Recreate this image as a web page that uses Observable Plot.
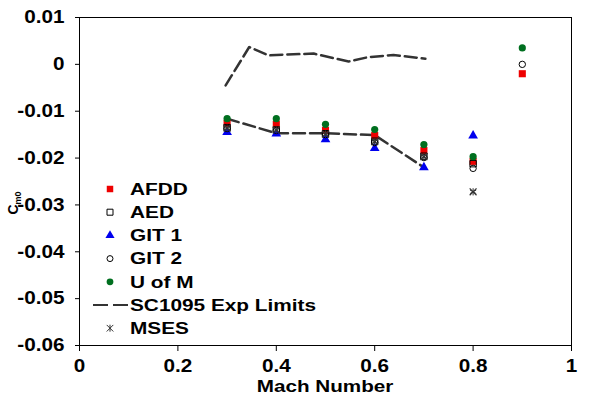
<!DOCTYPE html>
<html>
<head>
<meta charset="utf-8">
<script src="https://cdn.jsdelivr.net/npm/d3@7"></script>
<script src="https://cdn.jsdelivr.net/npm/@observablehq/plot@0.6"></script>
<style>
  html, body { margin: 0; padding: 0; background: #fff; }
  svg text { font-family: "Liberation Sans", Arial, sans-serif; font-weight: bold; }
</style>
</head>
<body>
<div id="chart"></div>
<script>
// ---- data ----
const mach = [0.3, 0.4, 0.5, 0.6, 0.7, 0.8, 0.9];
const afdd = [-0.0126, -0.0128, -0.0141, -0.0152, -0.0184, -0.0207, -0.0020];
const aed  = [-0.0135, -0.0140, -0.0148, -0.0164, -0.0196, -0.0212, null];
const git1 = [-0.0145, -0.0148, -0.0160, -0.0179, -0.0220, -0.0152, null];
const git2 = [-0.0137, -0.0141, -0.0150, -0.0167, -0.0199, -0.0222, 0.0000];
const uofm = [-0.0116, -0.0116, -0.0128, -0.0139, -0.0171, -0.0197, 0.0035];
const mses = [-0.0136, -0.0140, -0.0149, -0.0165, -0.0197, -0.0272, null];

const lowMach = [0.3, 0.4, 0.5, 0.6, 0.7];
const lowLimit = [-0.0116, -0.0147, -0.0147, -0.0151, -0.0220];
const upMach = [0.297, 0.345, 0.384, 0.423, 0.476, 0.547, 0.585, 0.638, 0.703];
const upLimit = [-0.0045, 0.0037, 0.0019, 0.0021, 0.0023, 0.0006, 0.0015, 0.0020, 0.0012];

const xTicks = [0, 0.2, 0.4, 0.6, 0.8, 1];
const yTicks = [0.01, 0, -0.01, -0.02, -0.03, -0.04, -0.05, -0.06];
const legendLabels = ["AFDD", "AED", "GIT 1", "GIT 2", "U of M", "SC1095 Exp Limits", "MSES"];

const RED = "#ee0000", BLUE = "#0000ee", GREEN = "#006f1f", DASH = "#333333";

const pts = arr => mach.map((m, i) => ({m, v: arr[i]})).filter(d => d.v != null);
const low = lowMach.map((m, i) => ({m, v: lowLimit[i]}));
const up = upMach.map((m, i) => ({m, v: upLimit[i]}));
const fmt = d => String(Math.round(d * 100) / 100);

const W = 589, H = 400, ML = 79, MR = 18, MT = 17, MB = 55;

const plot = Plot.plot({
  width: W, height: H,
  marginLeft: ML, marginRight: MR, marginTop: MT, marginBottom: MB,
  style: {fontFamily: "Liberation Sans, Arial, sans-serif", fontSize: "18px", fontWeight: "bold", color: "#000", background: "#fff"},
  x: {domain: [0, 1], ticks: xTicks, tickFormat: fmt, tickSize: 6, tickPadding: 8, label: null},
  y: {domain: [-0.06, 0.01], ticks: yTicks, tickFormat: fmt, tickSize: 4, tickPadding: 11, label: null},
  marks: [
    Plot.frame({stroke: "#000", strokeWidth: 1}),
    Plot.line(low, {x: "m", y: "v", stroke: DASH, strokeWidth: 2.5, strokeDasharray: "12,5"}),
    Plot.line(up, {x: "m", y: "v", stroke: DASH, strokeWidth: 2.5, strokeDasharray: "12,5"}),
    Plot.dot(pts(afdd), {x: "m", y: "v", symbol: "square", r: 4, fill: RED, stroke: "none"}),
    Plot.dot(pts(aed), {x: "m", y: "v", symbol: "square", r: 3.6, fill: "none", stroke: "#000", strokeWidth: 1}),
    Plot.dot(pts(git1), {x: "m", y: "v", symbol: "triangle", r: 3.6, fill: BLUE, stroke: "none"}),
    Plot.dot(pts(git2), {x: "m", y: "v", symbol: "circle", r: 3.2, fill: "none", stroke: "#000", strokeWidth: 1}),
    Plot.dot(pts(uofm), {x: "m", y: "v", symbol: "circle", r: 3.6, fill: GREEN, stroke: "none"}),
    Plot.dot(pts(mses), {x: "m", y: "v", symbol: "times", r: 3.2, stroke: "#333", strokeWidth: 1.2}),
    Plot.dot(pts(mses), {x: "m", y: "v", symbol: "asterisk", r: 3.4, stroke: "#333", strokeWidth: 1})
  ]
});

document.getElementById("chart").appendChild(plot);
const svg = d3.select(plot);

// stretch text horizontally like the reference
function stretch(sel, k) {
  sel.each(function() {
    const len = this.getComputedTextLength();
    if (len > 0) {
      this.setAttribute("textLength", (len * k).toFixed(1));
      this.setAttribute("lengthAdjust", "spacingAndGlyphs");
    }
  });
}
stretch(svg.selectAll("g[aria-label$='tick label'] text"), 1.15);

// axis titles
const xl = svg.append("text")
  .attr("x", (ML + W - MR) / 2).attr("y", 392)
  .attr("text-anchor", "middle").attr("font-size", 16).attr("fill", "#000")
  .text("Mach Number");
stretch(xl, 1.29);

const yl = svg.append("text")
  .attr("transform", "translate(18,203) rotate(-90)")
  .attr("text-anchor", "middle").attr("font-size", 14).attr("fill", "#000");
yl.append("tspan").text("C");
yl.append("tspan").attr("font-size", 9).attr("dy", 3).text("m0");

// legend
const legend = svg.append("g").attr("text-anchor", "start");
const rowY = [189, 212.2, 235.4, 258.6, 281.8, 305, 328.2];
const mx = 110, tx = 130;
const symFor = [
  {type: d3.symbolSquare, size: 42, fill: RED, stroke: "none"},
  {type: d3.symbolSquare, size: 36, fill: "none", stroke: "#000"},
  {type: d3.symbolTriangle, size: 36, fill: BLUE, stroke: "none"},
  {type: d3.symbolCircle, size: 28, fill: "none", stroke: "#000"},
  {type: d3.symbolCircle, size: 36, fill: GREEN, stroke: "none"},
  null,
  {type: d3.symbolTimes, size: 30, fill: "none", stroke: "#333"}
];
legendLabels.forEach((lab, i) => {
  const s = symFor[i];
  if (s) {
    legend.append("path")
      .attr("transform", `translate(${mx},${rowY[i]})`)
      .attr("d", d3.symbol(s.type, s.size)())
      .attr("fill", s.fill).attr("stroke", s.stroke).attr("stroke-width", 1);
    if (i === 6) {
      legend.append("path")
        .attr("transform", `translate(${mx},${rowY[i]})`)
        .attr("d", "M0,-3.5V3.5")
        .attr("stroke", "#333").attr("stroke-width", 1);
    }
  } else {
    legend.append("line")
      .attr("x1", 93).attr("x2", 128).attr("y1", rowY[i]).attr("y2", rowY[i])
      .attr("stroke", DASH).attr("stroke-width", 2).attr("stroke-dasharray", "15,5");
  }
  const t = legend.append("text")
    .attr("x", tx).attr("y", rowY[i]).attr("dy", "0.36em")
    .attr("text-anchor", "start")
    .attr("font-size", 16).attr("fill", "#000").text(lab);
  stretch(t, 1.3);
});
</script>
</body>
</html>
